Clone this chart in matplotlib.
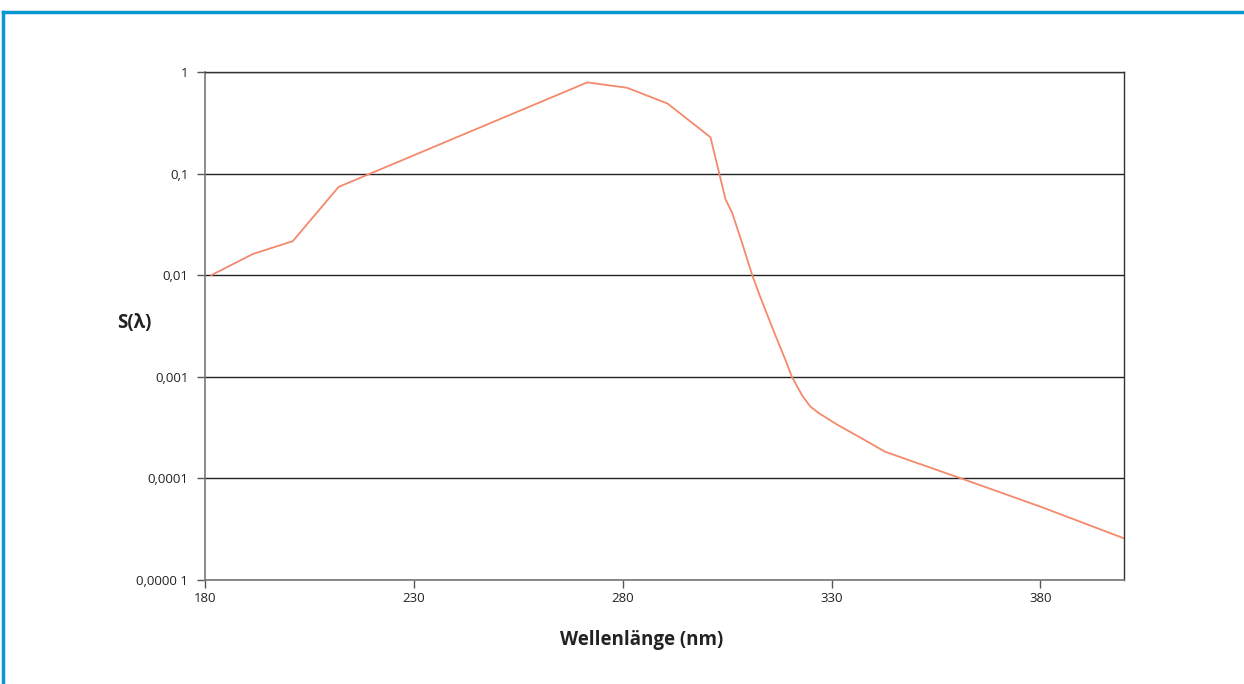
import matplotlib
matplotlib.use('Agg')
import matplotlib.pyplot as plt
from matplotlib.lines import Line2D

plt.rcParams['font.family'] = ['Open Sans', 'DejaVu Sans']

# values
wavelength = [181.5, 191.5, 201, 212, 271.5, 281, 290.7, 301, 304.6, 306.2, 308.6,
              311, 313, 315, 317, 319, 320.5, 322.9, 324.9, 326.9, 331.5, 337.2,
              342.8, 350, 361, 380, 400]
s_lambda = [0.01, 0.0162, 0.0216, 0.074, 0.79, 0.70, 0.49, 0.228, 0.056, 0.041, 0.0206,
            0.01, 0.006, 0.0037, 0.0023, 0.00145, 0.001, 0.00066, 0.00051, 0.00044, 0.000335, 0.000248,
            0.000183, 0.000144, 0.0001, 0.0000527, 0.0000257]

x_ticks = [180, 230, 280, 330, 380]
y_ticks = [1, 0.1, 0.01, 0.001, 0.0001, 0.00001]
y_tick_labels = ['1', '0,1', '0,01', '0,001', '0,0001', '0,0000 1']

fig = plt.figure(figsize=(12.44, 6.84), dpi=100)
ax = fig.add_axes([205/1244, 1 - 580/684, (1124 - 205)/1244, (580 - 72)/684])

ax.plot(wavelength, s_lambda, color='#f4896b', lw=1.3)

ax.set_yscale('log')
ax.set_xlim(180, 400)
ax.set_ylim(0.00001, 1)
ax.set_xticks(x_ticks)
ax.set_xticklabels([str(t) for t in x_ticks])
ax.set_yticks(y_ticks)
ax.set_yticklabels(y_tick_labels)
ax.minorticks_off()
ax.tick_params(axis='both', labelsize=9.5, color='#555555', length=6, width=1, labelcolor='#222222')
ax.tick_params(axis='x', pad=3)
ax.tick_params(axis='y', pad=6)

ax.yaxis.grid(True, color='#222222', lw=1)
ax.set_axisbelow(True)
for side in ['left', 'bottom']:
    ax.spines[side].set_color('#777777')
    ax.spines[side].set_linewidth(1.2)
for side in ['top', 'right']:
    ax.spines[side].set_color('#333333')
    ax.spines[side].set_linewidth(1)

fig.text(642/1244, 1 - 640/684, 'Wellenlänge (nm)', ha='center', va='center',
         fontsize=13.5, fontweight='bold', color='#222222')
fig.text(134/1244, 1 - 323/684, 'S(λ)', ha='center', va='center',
         fontsize=13.5, fontweight='bold', color='#222222')

# blue frame round the figure
blue = '#0a96d0'
fig.add_artist(Line2D([3/1244, 3/1244], [0, 1 - 12/684], color=blue, lw=2.5,
                      transform=fig.transFigure, solid_capstyle='projecting'))
fig.add_artist(Line2D([3/1244, 1], [1 - 12/684, 1 - 12/684], color=blue, lw=2.5,
                      transform=fig.transFigure, solid_capstyle='projecting'))

fig.savefig('out.png', dpi=100)
